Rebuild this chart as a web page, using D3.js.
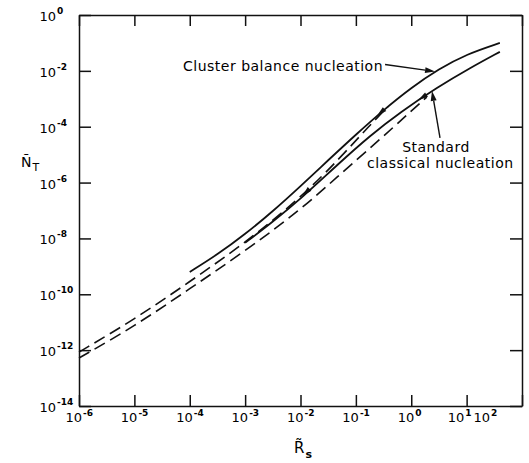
<!DOCTYPE html>
<html>
<head>
<meta charset="utf-8">
<script src="https://cdn.jsdelivr.net/npm/d3@7"></script>
<style>
  body { margin: 0; background: #fff; }
  svg { display: block; font-family: "DejaVu Sans", sans-serif; }
</style>
</head>
<body>
<div id="chart"></div>
<script>
// decade exponents on the axes
const xDecades = [-6, -5, -4, -3, -2, -1, 0, 1, 2];
const yDecades = [0, -2, -4, -6, -8, -10, -12, -14];

// curves, as log10 values
const clusterLogR = [-4.0, -3.5, -3.0, -2.5, -2.0, -1.5, -1.0, -0.5, 0.0, 0.5, 1.0, 1.6];
const clusterLogN = [-9.2, -8.58, -7.85, -7.03, -6.13, -5.2, -4.28, -3.4, -2.6, -1.93, -1.4, -1.0];

const classicalLogR = [-3.0, -2.5, -2.0, -1.3, -0.75, -0.2, 0.48, 1.06, 1.6];
const classicalLogN = [-8.16, -7.4, -6.59, -5.3, -4.33, -3.48, -2.58, -1.9, -1.32];

const dashUpperLogR = [-6.0, -5.0, -4.0, -3.0, -2.0, -1.3, -0.75, -0.42];
const dashUpperLogN = [-12.07, -10.9, -9.55, -8.16, -6.55, -5.15, -3.95, -3.28];

const dashLowerLogR = [-6.0, -5.0, -4.0, -3.0, -2.0, -1.3, -0.58, -0.04, 0.28];
const dashLowerLogN = [-12.28, -11.15, -9.8, -8.45, -6.98, -5.73, -4.48, -3.51, -2.94];

// small direction arrows sitting on the curves
const arrowCurves = ['cluster', 'dashUpper', 'classical'];
const arrowLogR = [-0.55, -1.9, 0.2];

const w = 529;
const h = 463;
const margin = { top: 15, right: 7, bottom: 57, left: 79 };

const svg = d3.select('#chart')
  .append('svg')
  .attr('width', w)
  .attr('height', h);

const x = d3.scaleLog()
  .domain([1e-6, 1e2])
  .range([margin.left, w - margin.right]);

const y = d3.scaleLog()
  .domain([1e-14, 1])
  .range([h - margin.bottom, margin.top]);

const toPoints = (lr, ln) => lr.map((r, i) => [Math.pow(10, r), Math.pow(10, ln[i])]);

const curves = {
  cluster: { pts: toPoints(clusterLogR, clusterLogN), lr: clusterLogR, ln: clusterLogN, dash: null, width: 1.8 },
  classical: { pts: toPoints(classicalLogR, classicalLogN), lr: classicalLogR, ln: classicalLogN, dash: null, width: 1.8 },
  dashUpper: { pts: toPoints(dashUpperLogR, dashUpperLogN), lr: dashUpperLogR, ln: dashUpperLogN, dash: '12,6', width: 1.6 },
  dashLower: { pts: toPoints(dashLowerLogR, dashLowerLogN), lr: dashLowerLogR, ln: dashLowerLogN, dash: '12,6', width: 1.6 }
};

// value of a curve at a given log R (linear in log space)
function curveAt(c, lr) {
  const i = Math.max(0, Math.min(c.lr.length - 2, d3.bisectRight(c.lr, lr) - 1));
  const t = (lr - c.lr[i]) / (c.lr[i + 1] - c.lr[i]);
  return c.ln[i] + t * (c.ln[i + 1] - c.ln[i]);
}
const px = (c, lr) => [x(Math.pow(10, lr)), y(Math.pow(10, curveAt(c, lr)))];

// axes: inward ticks on all four sides
const xTicks = xDecades.map(e => Math.pow(10, e));
const yTicks = yDecades.map(e => Math.pow(10, e));

svg.append('g')
  .attr('transform', `translate(0, ${h - margin.bottom})`)
  .call(d3.axisBottom(x).tickValues(xTicks).tickSize(-11).tickSizeOuter(0).tickFormat(''));
svg.append('g')
  .attr('transform', `translate(0, ${margin.top})`)
  .call(d3.axisTop(x).tickValues(xTicks).tickSize(-11).tickSizeOuter(0).tickFormat(''));
svg.append('g')
  .attr('transform', `translate(${margin.left}, 0)`)
  .call(d3.axisLeft(y).tickValues(yTicks).tickSize(-12).tickSizeOuter(0).tickFormat(''));
svg.append('g')
  .attr('transform', `translate(${w - margin.right}, 0)`)
  .call(d3.axisRight(y).tickValues(yTicks).tickSize(-12).tickSizeOuter(0).tickFormat(''));

svg.selectAll('.domain, .tick line')
  .attr('stroke', '#111')
  .attr('stroke-width', 1.5);

// tick labels: "10" with a superscript exponent
const supText = e => e < 0 ? '-' + (-e) : String(e);

const xLab = svg.append('g').selectAll('g')
  .data(xDecades)
  .enter()
  .append('g');
xLab.append('text')
  .attr('class', 'base')
  .attr('text-anchor', 'end')
  .attr('font-size', 13)
  .text('10');
xLab.append('text')
  .attr('class', 'sup')
  .attr('x', 1)
  .attr('y', -6)
  .attr('font-size', 9)
  .attr('font-weight', 'bold')
  .text(supText);

// place x labels at their ticks, pushing the right-most ones left so they stay inside and apart
const xEnds = xDecades.map(e => x(Math.pow(10, e)) + 3);
const nodes = xLab.nodes();
xEnds[xEnds.length - 1] = Math.min(xEnds[xEnds.length - 1], w - 39);
for (let i = xEnds.length - 2; i >= 0; i--) {
  const supW = d3.select(nodes[i]).select('.sup').node().getComputedTextLength();
  const nextBaseW = d3.select(nodes[i + 1]).select('.base').node().getComputedTextLength();
  xEnds[i] = Math.min(xEnds[i], xEnds[i + 1] - nextBaseW - supW - 3);
}
xLab.attr('transform', (e, i) => `translate(${xEnds[i]}, ${h - margin.bottom + 16})`);

const yLab = svg.append('g').selectAll('g')
  .data(yDecades)
  .enter()
  .append('g')
  .attr('transform', e => `translate(56, ${y(Math.pow(10, e)) + 6})`);
yLab.append('text')
  .attr('text-anchor', 'end')
  .attr('font-size', 13)
  .text('10');
yLab.append('text')
  .attr('x', 1)
  .attr('y', -7)
  .attr('font-size', 9)
  .attr('font-weight', 'bold')
  .text(supText);

// axis titles
const yTitle = svg.append('text')
  .attr('x', 21)
  .attr('y', 167)
  .attr('font-size', 14);
yTitle.append('tspan').text('Ñ');
yTitle.append('tspan').attr('font-size', 11).attr('dy', 4).attr('dx', 1).text('T');

const xTitle = svg.append('text')
  .attr('x', 294)
  .attr('y', 453)
  .attr('font-size', 15);
xTitle.append('tspan').text('R\u0303');
xTitle.append('tspan').attr('font-size', 11).attr('font-weight', 'bold').attr('dy', 5).attr('dx', 1).text('s');

// curves
const line = d3.line()
  .x(d => x(d[0]))
  .y(d => y(d[1]))
  .curve(d3.curveBasis);

Object.values(curves).forEach(c => {
  svg.append('path')
    .datum(c.pts)
    .attr('d', line)
    .attr('fill', 'none')
    .attr('stroke', '#111')
    .attr('stroke-width', c.width)
    .attr('stroke-dasharray', c.dash);
});

// direction arrowheads pointing down the curves
arrowCurves.forEach((name, i) => {
  const c = curves[name];
  const p = px(c, arrowLogR[i]);
  const q = px(c, arrowLogR[i] - 0.1);
  const a = Math.atan2(q[1] - p[1], q[0] - p[0]);
  const len = 10, half = 2.6;
  const tip = [p[0] + Math.cos(a) * len / 2, p[1] + Math.sin(a) * len / 2];
  const base = [p[0] - Math.cos(a) * len / 2, p[1] - Math.sin(a) * len / 2];
  const n = [-Math.sin(a) * half, Math.cos(a) * half];
  svg.append('path')
    .attr('d', `M${tip}L${base[0] + n[0]},${base[1] + n[1]}L${base[0] - n[0]},${base[1] - n[1]}Z`)
    .attr('fill', '#111');
});

// annotations
function annotArrow(tail, tip) {
  const a = Math.atan2(tip[1] - tail[1], tip[0] - tail[0]);
  const len = 10, half = 3;
  const base = [tip[0] - Math.cos(a) * len, tip[1] - Math.sin(a) * len];
  const n = [-Math.sin(a) * half, Math.cos(a) * half];
  svg.append('line')
    .attr('x1', tail[0]).attr('y1', tail[1])
    .attr('x2', base[0]).attr('y2', base[1])
    .attr('stroke', '#111').attr('stroke-width', 1.4);
  svg.append('path')
    .attr('d', `M${tip}L${base[0] + n[0]},${base[1] + n[1]}L${base[0] - n[0]},${base[1] - n[1]}Z`)
    .attr('fill', '#111');
}

const clusterTip = px(curves.cluster, 0.43);
annotArrow([clusterTip[0] - 50, clusterTip[1] - 7], clusterTip);
svg.append('text')
  .attr('x', 183)
  .attr('y', 71)
  .attr('font-size', 14)
  .attr('letter-spacing', 0.5)
  .text('Cluster balance nucleation');

const classicalTip = px(curves.classical, 0.375);
annotArrow([classicalTip[0] + 8, classicalTip[1] + 47], classicalTip);
svg.append('text')
  .attr('x', 436)
  .attr('y', 152)
  .attr('text-anchor', 'middle')
  .attr('font-size', 14)
  .attr('letter-spacing', 0.5)
  .text('Standard');
svg.append('text')
  .attr('x', 367)
  .attr('y', 168)
  .attr('font-size', 14)
  .attr('letter-spacing', 0.5)
  .text('classical nucleation');
</script>
</body>
</html>
